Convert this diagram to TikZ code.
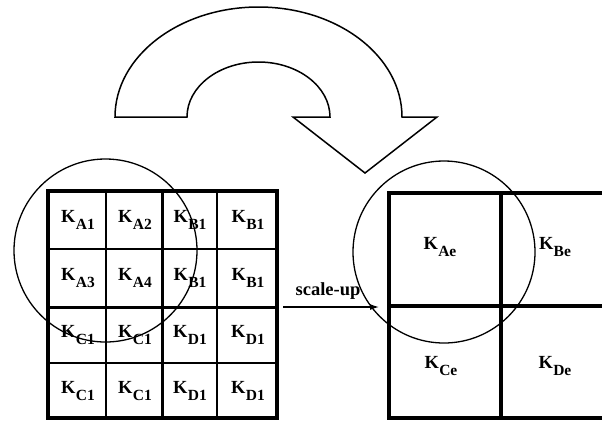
\documentclass[tikz,border=0pt]{standalone}
\usepackage{fontspec}
\setmainfont{Liberation Serif}
\usetikzlibrary{arrows.meta}
% K with a lowered bold index
\newcommand\kidx[1]{{\fontsize{18.5}{18}\selectfont\bfseries K\kern0.2pt\raisebox{-6.5pt}{\fontsize{15.5}{15}\selectfont #1}}}
\tikzset{
  thinline/.style={line width=1.4pt},
  midline/.style={line width=3pt},
  outline/.style={line width=3.8pt},
  bigline/.style={line width=3.4pt},
  ring/.style={line width=1.3pt},
  uturn/.style={line width=1.5pt, line join=miter},
  lbl/.style={inner sep=0pt, anchor=center},
  flow/.style={line width=1.2pt, -{Latex[length=9pt,width=6pt]}}
}
\begin{document}
\begin{tikzpicture}[x=1pt,y=-1pt]
\useasboundingbox (0,0) rectangle (602,421);
\fill[white] (0,0) rectangle (602,421);

% curved transfer arrow
\draw[uturn] (115,117) arc[start angle=180, end angle=360, x radius=143.5, y radius=110]
  -- (437,117) -- (365,173) -- (293,117) -- (330,117)
  arc[start angle=0, end angle=-180, x radius=71.5, y radius=55] -- cycle;

% fine grid (4 x 4)
\draw[thinline] (106,191) -- (106,418) (217,191) -- (217,418)
  (48,249) -- (277,249) (48,363) -- (277,363);
\draw[midline] (162,191) -- (162,418) (48,307) -- (277,307);
\draw[outline] (48,191) rectangle (277,418);

% coarse grid (2 x 2)
\draw[bigline] (389,193) rectangle (613,418);
\draw[bigline] (501,193) -- (501,418) (389,306) -- (613,306);

% regions of interest
\draw[ring] (105.5,250.5) circle[radius=91.5];
\draw[ring] (444,252) circle[radius=91];

% fine labels
\node[lbl] (a1) at (78,220) {\kidx{A1}};
\node[lbl] (a2) at (135,220) {\kidx{A2}};
\node[lbl] (b1) at (190,220) {\kidx{B1}};
\node[lbl] (b2) at (248,220) {\kidx{B1}};
\node[lbl] (a3) at (78,278) {\kidx{A3}};
\node[lbl] (a4) at (135,278) {\kidx{A4}};
\node[lbl] (b3) at (190,278) {\kidx{B1}};
\node[lbl] (b4) at (248,278) {\kidx{B1}};
\node[lbl] (c1) at (78,335) {\kidx{C1}};
\node[lbl] (c2) at (135,335) {\kidx{C1}};
\node[lbl] (d1) at (190,335) {\kidx{D1}};
\node[lbl] (d2) at (248,335) {\kidx{D1}};
\node[lbl] (c3) at (78,391) {\kidx{C1}};
\node[lbl] (c4) at (135,391) {\kidx{C1}};
\node[lbl] (d3) at (190,391) {\kidx{D1}};
\node[lbl] (d4) at (248,391) {\kidx{D1}};

% coarse labels
\node[lbl] (ae) at (440,247) {\kidx{Ae}};
\node[lbl] (be) at (555,247) {\kidx{Be}};
\node[lbl] (ce) at (441,366) {\kidx{Ce}};
\node[lbl] (de) at (555,366) {\kidx{De}};

% scale-up connector
\coordinate (src) at (283,307);
\coordinate (dst) at (379,307);
\draw[flow] (src) -- (dst);
\node[inner sep=0pt, anchor=base] (su) at (328,295) {\fontsize{18.5}{18}\selectfont\bfseries scale-up};
\end{tikzpicture}
\end{document}
